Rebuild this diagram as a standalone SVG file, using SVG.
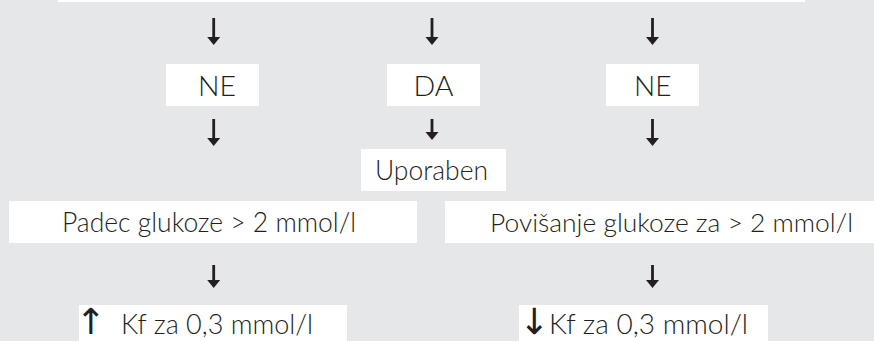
<svg xmlns="http://www.w3.org/2000/svg" width="874" height="341" viewBox="0 0 874 341">
<defs>
<style>
.bx{fill:#ffffff}
.t{font-family:Lato,"Open Sans","Liberation Sans",sans-serif;font-weight:300;font-size:28px;fill:#231f20}
.s{font-size:26px}
.a{font-family:"DejaVu Sans",sans-serif;font-size:36px;fill:#231f20;text-anchor:middle}
.c{stroke:#231f20;stroke-width:2.8;fill:none}
</style>
<marker id="ah" markerWidth="9" markerHeight="14" refX="0" refY="0" viewBox="0 -7 9 14" orient="auto" markerUnits="userSpaceOnUse">
<path d="M0,-6.5 L8,0 L0,6.5 Z" fill="#231f20"/>
</marker>
</defs>
<rect width="874" height="341" fill="#e6e7e8"/>
<g id="top"><rect class="bx" x="58" y="0" width="747" height="2"/></g>
<g id="connectors">
<line class="c" x1="213.7" y1="18" x2="213.7" y2="37" marker-end="url(#ah)"/>
<line class="c" x1="432" y1="18" x2="432" y2="37" marker-end="url(#ah)"/>
<line class="c" x1="652.5" y1="18" x2="652.5" y2="37" marker-end="url(#ah)"/>
<line class="c" x1="213.7" y1="119" x2="213.7" y2="138" marker-end="url(#ah)"/>
<line class="c" x1="432" y1="119" x2="432" y2="132" marker-end="url(#ah)"/>
<line class="c" x1="652.5" y1="119" x2="652.5" y2="138" marker-end="url(#ah)"/>
<line class="c" x1="213.7" y1="265" x2="213.7" y2="280" marker-end="url(#ah)"/>
<line class="c" x1="652.5" y1="265" x2="652.5" y2="280" marker-end="url(#ah)"/>
</g>
<g id="ne1"><rect class="bx" x="166" y="64" width="93" height="42"/><text class="t" x="198" y="96" textLength="38" lengthAdjust="spacingAndGlyphs">NE</text></g>
<g id="da"><rect class="bx" x="387" y="64" width="93" height="42"/><text class="t" x="413.5" y="96" textLength="40" lengthAdjust="spacingAndGlyphs">DA</text></g>
<g id="ne2"><rect class="bx" x="606" y="64" width="93" height="42"/><text class="t" x="634" y="96" textLength="37.5" lengthAdjust="spacingAndGlyphs">NE</text></g>
<g id="uporaben"><rect class="bx" x="361" y="149" width="145" height="42"/><text class="t" x="375" y="180" textLength="113" lengthAdjust="spacingAndGlyphs">Uporaben</text></g>
<g id="padec"><rect class="bx" x="9" y="201" width="408" height="42"/><text class="t" x="62" y="232" textLength="294" lengthAdjust="spacingAndGlyphs">Padec glukoze &gt; 2 mmol/l</text></g>
<g id="povisanje"><rect class="bx" x="445" y="201" width="429" height="42"/><text class="t s" x="490" y="232" textLength="363" lengthAdjust="spacingAndGlyphs">Povišanje glukoze za &gt; 2 mmol/l</text></g>
<g id="kf1"><rect class="bx" x="79" y="305" width="268" height="36"/><text y="334"><tspan class="a" x="90.5">↑</tspan><tspan class="t" x="121" textLength="192" lengthAdjust="spacingAndGlyphs">Kf za 0,3 mmol/l</tspan></text></g>
<g id="kf2"><rect class="bx" x="519" y="305" width="249" height="36"/><text y="334"><tspan class="a" x="534">↓</tspan><tspan class="t" x="549" textLength="199" lengthAdjust="spacingAndGlyphs">Kf za 0,3 mmol/l</tspan></text></g>
</svg>
